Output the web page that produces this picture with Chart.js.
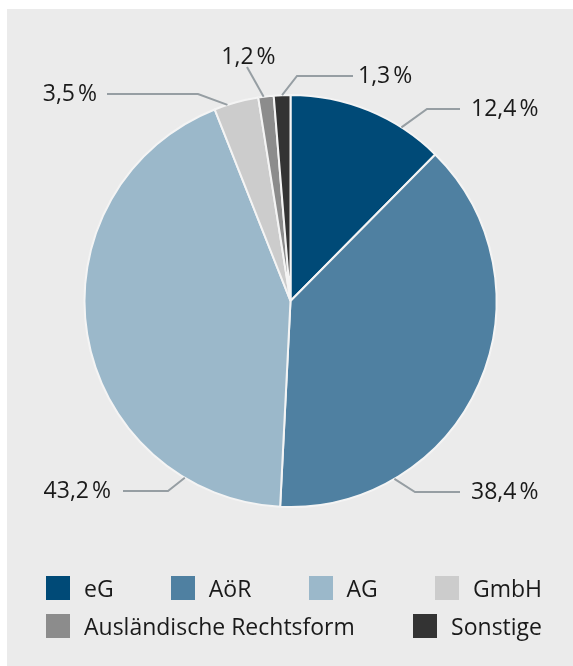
<!DOCTYPE html>
<html>
<head>
<meta charset="utf-8">
<script src="https://cdn.jsdelivr.net/npm/chart.js@4.4.0/dist/chart.umd.min.js"></script>
<style>
  body { margin: 0; background: #fff; width: 573px; height: 666px; position: relative; overflow: hidden; font-family: "Open Sans", sans-serif; }
  #panel { position: absolute; left: 7px; top: 9px; right: 0; bottom: 0; background: #ebebeb; }
  #chart { position: absolute; left: 0; top: 0; }
  #legend { position: absolute; left: 46px; width: 496px; top: 569px; font-size: 23px; color: #1a1a1a; }
  .row { display: flex; justify-content: space-between; height: 38px; align-items: center; }
  .item { display: flex; align-items: center; }
  .box { width: 24px; height: 24px; margin-right: 14px; }
</style>
</head>
<body>
<div id="panel"></div>
<canvas id="chart" width="573" height="666"></canvas>
<div id="legend"></div>
<script>
// Rechtsformen, Anteile in %
const labels = ["eG", "AöR", "AG", "GmbH", "Ausländische Rechtsform", "Sonstige"];
const values = [12.4, 38.4, 43.2, 3.5, 1.2, 1.3];
const colors = ["#004a77", "#4f80a1", "#9bb8ca", "#cccccc", "#8c8c8c", "#333333"];
const legendRows = [[0, 1, 2, 3], [4, 5]];

// Beschriftungen: wo die Linie am Segment ansetzt (Anteil im Segment) und wohin sie läuft (relativ zur Mitte)
const callouts = [
  { frac: 0.73, elbow: [136.5, -192], endX: 169.5, textX: 180.5, align: "left" },
  { frac: 0.76, elbow: [124.5, 191], endX: 169.5, textX: 180.5, align: "left" },
  { frac: 0.18, elbow: [-122.5, 190], endX: -167.5, textX: -179.5, align: "right" },
  { frac: 0.3, elbow: [-92.5, -207], endX: -183.5, textX: -193.5, align: "right" },
  { frac: 0.35, elbow: [-43.5, -234], endX: -43.5, textX: -42, textY: -244, align: "center" },
  { frac: 0.5, elbow: [6.5, -225], endX: 62.5, textX: 67.5, align: "left" }
];

const fmt = v => v.toFixed(1).replace(".", ",") + "\u202f%";

const calloutPlugin = {
  id: "callouts",
  afterDraw(chart) {
    const ctx = chart.ctx;
    const arcs = chart.getDatasetMeta(0).data;
    ctx.save();
    arcs.forEach((arc, i) => {
      const c = callouts[i];
      const p = arc.getProps(["x", "y", "startAngle", "endAngle", "outerRadius"], true);
      const a = p.startAngle + c.frac * (p.endAngle - p.startAngle);
      const sx = p.x + Math.cos(a) * p.outerRadius;
      const sy = p.y + Math.sin(a) * p.outerRadius;
      const ex = p.x + c.elbow[0];
      const ey = p.y + c.elbow[1];
      ctx.strokeStyle = "#969ea3";
      ctx.lineWidth = 2;
      ctx.beginPath();
      ctx.moveTo(sx, sy);
      ctx.lineTo(ex, ey);
      ctx.lineTo(p.x + c.endX, ey);
      ctx.stroke();

      ctx.fillStyle = "#1a1a1a";
      ctx.font = '23px "Open Sans"';
      ctx.textAlign = c.align;
      ctx.textBaseline = "middle";
      const ty = c.textY !== undefined ? p.y + c.textY : ey;
      ctx.fillText(fmt(values[i]), p.x + c.textX, ty);
    });
    ctx.restore();
  }
};

new Chart(document.getElementById("chart"), {
  type: "pie",
  data: {
    labels: labels,
    datasets: [{
      data: values,
      backgroundColor: colors,
      borderColor: "#f4f4f4",
      borderWidth: 2
    }]
  },
  options: {
    responsive: false,
    animation: false,
    layout: { padding: { left: 83.5, right: 75.5, top: 94, bottom: 158 } },
    plugins: {
      legend: { display: false },
      tooltip: { enabled: false }
    }
  },
  plugins: [calloutPlugin]
});

// Legende
const legend = document.getElementById("legend");
legendRows.forEach(row => {
  const r = document.createElement("div");
  r.className = "row";
  row.forEach(i => {
    const item = document.createElement("div");
    item.className = "item";
    const box = document.createElement("span");
    box.className = "box";
    box.style.background = colors[i];
    const txt = document.createElement("span");
    txt.textContent = labels[i];
    item.appendChild(box);
    item.appendChild(txt);
    r.appendChild(item);
  });
  legend.appendChild(r);
});
</script>
</body>
</html>
